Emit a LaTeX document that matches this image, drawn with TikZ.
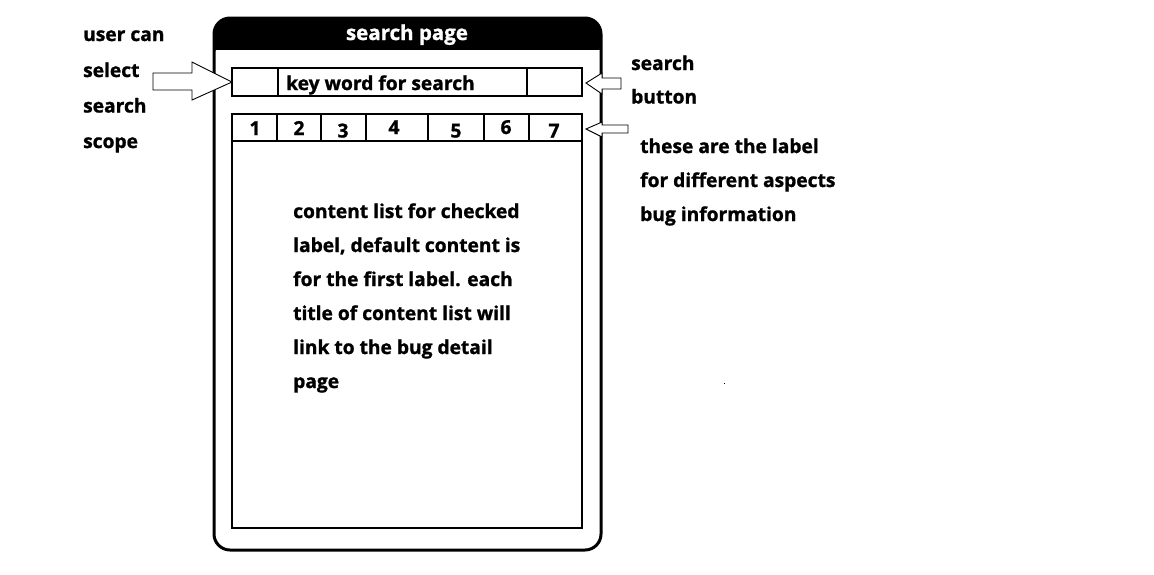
\documentclass[tikz,border=0pt]{standalone}
\usepackage{fontspec}
\setmainfont{Open Sans}[BoldFeatures={FakeBold=1.2}]
\begin{document}
\begin{tikzpicture}[x=1pt,y=-1pt,
  txt/.style={anchor=base west,inner sep=0pt,font=\fontsize{19.2}{19.2}\selectfont\bfseries},
  num/.style={anchor=base,inner sep=0pt,font=\fontsize{19.2}{19.2}\selectfont\bfseries},
  thinbox/.style={draw=black,line width=1.2pt},
  blockarrow/.style={draw=black,line width=0.9pt,fill=white,line join=miter}]
% canvas
\useasboundingbox[fill=white] (0,0) rectangle (1154,574);

% phone frame with black title bar
\fill[black,rounded corners=16pt] (214,18) rectangle (601,60);
\fill[white] (215.5,50) rectangle (599.5,62);
\draw[line width=3pt,rounded corners=16pt] (214,18) rectangle (601,550);
\node[anchor=base,inner sep=0pt,text=white,font=\fontsize{20.5}{20.5}\selectfont\bfseries] (title) at (407,40) {search page};

% search bar: scope | keyword | button
\draw[thinbox] (232,68) rectangle (582,96);
\draw[thinbox] (278,68) -- (278,96);
\draw[thinbox] (527,68) -- (527,96);
\coordinate (scope) at (232,82);
\coordinate (button) at (582,83);
\node[txt] (keyword) at (286,90) {key word for search};

% tab bar
\draw[thinbox] (232,114) rectangle (582,141);
\foreach \x in {277,321,366,428,484,529} \draw[thinbox] (\x,114) -- (\x,141);
\draw[line width=2.2pt] (232,141) -- (582,141);
\coordinate (tabs) at (582,129);
\node[num] (t1) at (255,135) {1};
\node[num] (t2) at (299,135) {2};
\node[num] (t3) at (343,137.5) {3};
\node[num] (t4) at (394,134) {4};
\node[num] (t5) at (456,137.5) {5};
\node[num] (t6) at (506,134) {6};
\node[num] (t7) at (554,137.5) {7};

% content area
\draw[thinbox] (232,141) rectangle (582,528);
\node[txt] (c1) at (293,218) {content list for checked};
\node[txt] (c2) at (293,252) {label, default content is};
\node[txt] (c3) at (293,286) {for the first label. each};
\node[txt] (c4) at (293,320) {title of content list will};
\node[txt] (c5) at (293,354) {link to the bug detail};
\node[txt] (c6) at (293,388) {page};

% left annotation
\node[txt] (l1) at (83,41) {user can};
\node[txt] (l2) at (83,77) {select};
\node[txt] (l3) at (83,112.5) {search};
\node[txt] (l4) at (83,148) {scope};
\draw[blockarrow] (153,73) -- (192,73) -- (192,62) -- (scope) -- (192,100) -- (192,90) -- (153,90) -- cycle;

% search button annotation
\node[txt] (r1) at (631,70) {search};
\node[txt] (r2) at (631,103.5) {button};
\draw[blockarrow] (button) ++(4,0) -- (602,73) -- (602,78) -- (621,78) -- (621,89) -- (602,89) -- (602,94) -- cycle;

% tab annotation
\node[txt] (s1) at (640,153) {these are the label};
\node[txt] (s2) at (640,187) {for different aspects};
\node[txt] (s3) at (640,221) {bug information};
\draw[blockarrow] (tabs) ++(4,0) -- (602,122) -- (602,125) -- (628,125) -- (628,133) -- (602,133) -- (602,137) -- cycle;

% stray dot
\fill (723.5,382.5) rectangle (725,384);
\end{tikzpicture}
\end{document}
